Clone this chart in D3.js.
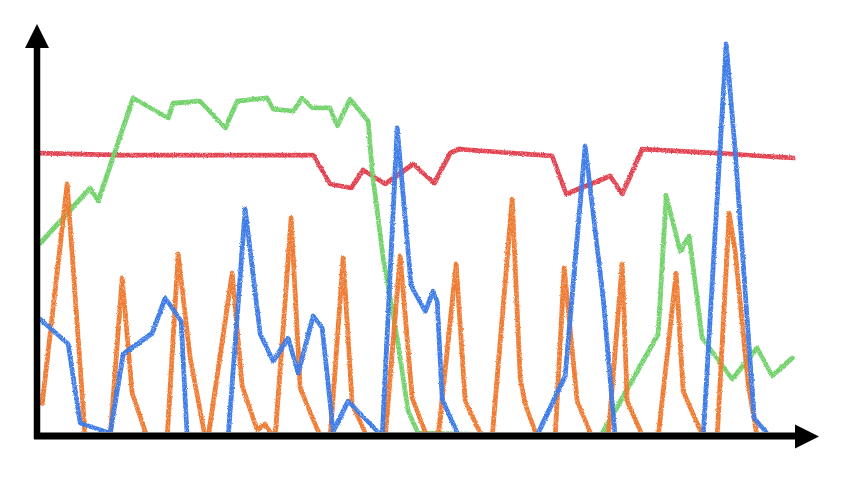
<!DOCTYPE html>
<html>
<head>
<meta charset="utf-8">
<script src="https://cdn.jsdelivr.net/npm/d3@7"></script>
<style>
  html, body { margin: 0; padding: 0; background: #fff; }
  svg { display: block; }
</style>
</head>
<body>
<svg id="chart" width="850" height="478"></svg>
<script>
// ---- data (x = time step, y = value) ----
const orangeX = [2,27,45,70,82,92,107,127,138,150,165,168,192,202,217,225,233,235,251,260,277,282,290,303,312,327,345,360,372,387,398,416,425,442,452,472,480,485,497,515,524,537,552,568,582,587,603,618,636,643,663,677,689,695,708,717];
const orangeY = [8.3,63.3,0,0,39.8,11,0,0,45.8,19.8,0,0,41,12.8,1.8,3.3,0,0,54.8,12.3,2,0,0,44.8,8.3,0,0,45.3,9.8,0,0,43.3,9,0,0,59.5,14.8,8.3,0,0,42.3,9,0,0,43.3,9,0,0,41,11.5,0,0,56,46.5,13.3,0];

const blueX = [0,28,40,70,83,112,125,141,147,188,205,220,233,248,258,273,282,293,308,337,342,357,371,385,393,397,402,419,496,525,545,563,575,663,686,695,714,730];
const blueY = [29.5,23.3,3.5,1,20.8,26,34.8,29,0,0,57,25.8,19,24.8,16,30.3,27.3,1.5,9,1.5,0,77.3,37.8,31.5,36.5,34,9.5,0,0,15.3,72.8,34.8,0,0,98.3,71.5,4.8,0];

const greenX = [0,50,58,93,128,133,160,185,197,227,233,253,262,272,290,297,310,328,332,343,357,368,378,560,618,626,640,649,662,692,717,732,752];
const greenY = [48.5,62.3,59,84.8,79.8,83.5,84,77.3,84,84.8,82,81.5,84.8,82.3,82.3,77.8,84.5,79,66.5,44.8,24.8,6.5,1,0,25.8,60.5,46.5,50.3,24.8,14.5,22.3,15.3,19.8];

const redX = [0,80,160,273,290,311,323,345,373,394,410,418,512,526,570,582,602,677,753];
const redY = [71,70.5,70.5,70.5,63.3,62.3,66.8,63.3,68.3,63.5,71,72,70.3,60.8,65.3,60.8,72,71,69.8];

const series = [
  { name: "red",    xs: redX,    ys: redY,    color: "#e2414f" },
  { name: "green",  xs: greenX,  ys: greenY,  color: "#72d26b" },
  { name: "orange", xs: orangeX, ys: orangeY, color: "#ef7a30" },
  { name: "blue",   xs: blueX,   ys: blueY,   color: "#3c7be8" }
];

// ---- layout ----
const svg = d3.select("#chart");
const x = d3.scaleLinear().domain([0, 753]).range([40, 793]);
const y = d3.scaleLinear().domain([0, 100]).range([437, 37]);

// rough pencil filter
const defs = svg.append("defs");
const f = defs.append("filter").attr("id", "rough")
  .attr("x", "-5%").attr("y", "-5%").attr("width", "110%").attr("height", "110%");
f.append("feTurbulence").attr("type", "fractalNoise").attr("baseFrequency", 0.9)
  .attr("numOctaves", 2).attr("seed", 3).attr("result", "noise");
f.append("feDisplacementMap").attr("in", "SourceGraphic").attr("in2", "noise")
  .attr("scale", 2.4).attr("xChannelSelector", "R").attr("yChannelSelector", "G").attr("result", "disp");
f.append("feTurbulence").attr("type", "fractalNoise").attr("baseFrequency", 1.6)
  .attr("numOctaves", 1).attr("seed", 7).attr("result", "grain");
f.append("feColorMatrix").attr("in", "grain").attr("type", "matrix")
  .attr("values", "0 0 0 0 0  0 0 0 0 0  0 0 0 0 0  0 0 0 -1.8 1.9").attr("result", "grainA");
f.append("feComposite").attr("in", "disp").attr("in2", "grainA").attr("operator", "in");

const clip = defs.append("clipPath").attr("id", "plotclip");
clip.append("rect").attr("x", 38).attr("y", 20).attr("width", 790).attr("height", 412);

const line = d3.line().x(d => x(d[0])).y(d => y(d[1])).curve(d3.curveLinear);

const outer = svg.append("g").attr("clip-path", "url(#plotclip)");
const g = outer.append("g");
series.forEach((s, si) => {
  const pts = s.xs.map((v, i) => [v, s.ys[i]]);
  const sg = g.append("g").attr("filter", "url(#rough)");
  sg.append("path").datum(pts)
    .attr("d", line)
    .attr("fill", "none")
    .attr("stroke", s.color)
    .attr("stroke-width", 4.4)
    .attr("stroke-linejoin", "round")
    .attr("stroke-linecap", "round");
  sg.append("path").datum(pts)
    .attr("d", line)
    .attr("transform", "translate(0.9,0.8)")
    .attr("fill", "none")
    .attr("stroke", s.color)
    .attr("stroke-opacity", 0.85)
    .attr("stroke-width", 3.4)
    .attr("stroke-linejoin", "round")
    .attr("stroke-linecap", "round");
});

// ---- axes with arrows ----
const ax = svg.append("g");
ax.append("line").attr("x1", 37).attr("y1", 46).attr("x2", 37).attr("y2", 439)
  .attr("stroke", "#000").attr("stroke-width", 6.5);
ax.append("line").attr("x1", 34).attr("y1", 436).attr("x2", 797).attr("y2", 436)
  .attr("stroke", "#000").attr("stroke-width", 7);
ax.append("path").attr("d", d3.line()([[25, 48], [37, 24], [49, 48]]) + "Z").attr("fill", "#000");
ax.append("path").attr("d", d3.line()([[795, 424.5], [819, 436.5], [795, 448.5]]) + "Z").attr("fill", "#000");
</script>
</body>
</html>
